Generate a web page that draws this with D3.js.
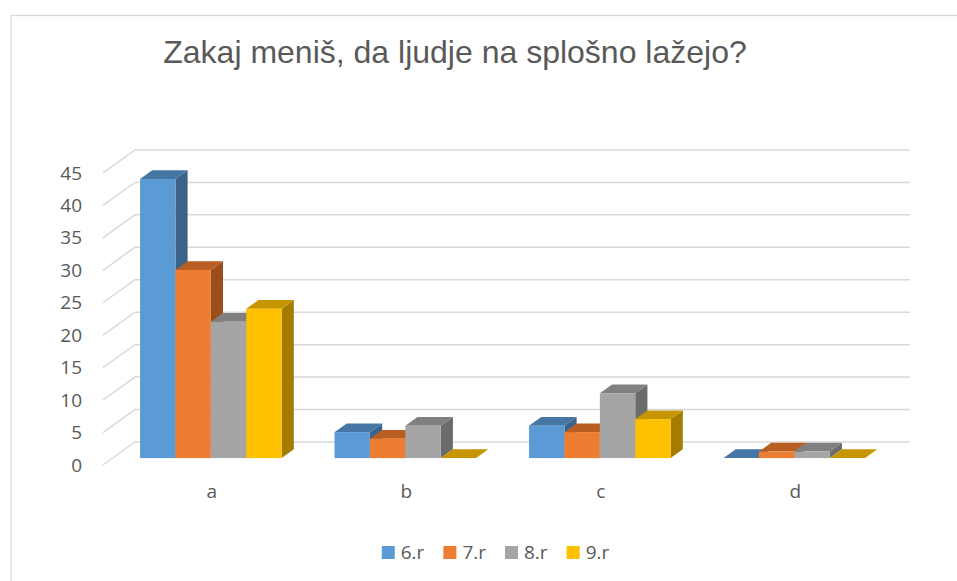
<!DOCTYPE html>
<html>
<head>
<meta charset="utf-8">
<script src="https://cdn.jsdelivr.net/npm/d3@7"></script>
<style>
  html, body { margin: 0; padding: 0; background: #ffffff; }
  svg { display: block; }
</style>
</head>
<body>
<svg id="chart" width="957" height="581"></svg>
<script>
// ---- data ----
const categories = ["a", "b", "c", "d"];
const seriesNames = ["6.r", "7.r", "8.r", "9.r"];
const values6r = [43, 4, 5, 0];
const values7r = [29, 3, 4, 1];
const values8r = [21, 5, 10, 1];
const values9r = [23, 0, 6, 0];
const yTickValues = [0, 5, 10, 15, 20, 25, 30, 35, 40, 45];
const titleText = "Zakaj meniš, da ljudje na splošno lažejo?";

const seriesValues = [values6r, values7r, values8r, values9r];
const fronts = ["#5B9BD5", "#ED7D31", "#A5A5A5", "#FFC000"];
const tops   = ["#4676A4", "#B95E22", "#808080", "#C69500"];
const sides  = ["#3B6389", "#9B4D1B", "#6B6B6B", "#A67C00"];

const svg = d3.select("#chart");
const textColor = "#595959";
const gridColor = "#D9D9D9";

// frame
svg.append("rect")
  .attr("x", 11).attr("y", 15.5).attr("width", 1100).attr("height", 700)
  .attr("fill", "none").attr("stroke", gridColor).attr("stroke-width", 1.3);

// title
svg.append("text")
  .attr("x", 455).attr("y", 63)
  .attr("text-anchor", "middle")
  .attr("font-family", "'Liberation Sans', Arial, sans-serif")
  .attr("font-size", 32)
  .attr("fill", textColor)
  .text(titleText);

// ---- geometry ----
const floorX0 = 103, floorX1 = 878;
const depthDX = 32, depthDY = -23;       // full floor depth
const barT0 = 0.3, barT1 = 0.68;         // bar front/back depth fractions
const fx = depthDX * barT0, fy = depthDY * barT0;
const bdx = depthDX * (barT1 - barT0), bdy = depthDY * (barT1 - barT0);

const y = d3.scaleLinear().domain([0, 45]).range([465, 465 - 45 * 6.49]);
const x = d3.scaleBand().domain(categories).range([104, 882])
  .paddingInner(0.272).paddingOuter(0.136);
const xs = d3.scaleBand().domain(seriesNames).range([0, x.bandwidth()]);

// gridlines (side diagonal + back wall)
const grid = svg.append("g").attr("stroke", gridColor).attr("stroke-width", 1.5).attr("fill", "none");
yTickValues.forEach(v => {
  const yy = y(v);
  grid.append("path")
    .attr("d", `M${floorX0},${yy} L${floorX0 + depthDX},${yy + depthDY} L${floorX1 + depthDX},${yy + depthDY}`);
});

// y axis labels
const yAxis = svg.append("g")
  .attr("transform", `translate(${floorX0},0)`)
  .call(d3.axisLeft(y).tickValues(yTickValues).tickSize(0).tickPadding(21));
yAxis.select(".domain").remove();
yAxis.selectAll("text")
  .attr("font-family", "'Open Sans', sans-serif")
  .attr("font-size", 19)
  .attr("fill", textColor);

// x axis labels
const xAxis = svg.append("g")
  .attr("transform", `translate(${fx + 1},${y(0)})`)
  .call(d3.axisBottom(x).tickSize(0).tickPadding(20));
xAxis.select(".domain").remove();
xAxis.selectAll("text")
  .attr("font-family", "'Open Sans', sans-serif")
  .attr("font-size", 19)
  .attr("fill", textColor);

// bars
const barsG = svg.append("g");
categories.forEach((cat, ci) => {
  seriesNames.forEach((s, si) => {
    const v = seriesValues[si][ci];
    const x0 = x(cat) + xs(s) + fx;
    const w = xs.bandwidth();
    const yt = y(v) + fy;
    const yb = y(0) + fy;
    const g = barsG.append("g");
    // side
    g.append("path")
      .attr("d", `M${x0 + w},${yt} L${x0 + w + bdx},${yt + bdy} L${x0 + w + bdx},${yb + bdy} L${x0 + w},${yb} Z`)
      .attr("fill", sides[si]);
    // top
    g.append("path")
      .attr("d", `M${x0},${yt} L${x0 + w},${yt} L${x0 + w + bdx},${yt + bdy} L${x0 + bdx},${yt + bdy} Z`)
      .attr("fill", tops[si]);
    // front
    if (v > 0) {
      g.append("rect")
        .attr("x", x0).attr("y", yt)
        .attr("width", w).attr("height", yb - yt)
        .attr("fill", fronts[si]);
    }
  });
});

// legend
const legend = svg.append("g");
const items = [];
seriesNames.forEach((s, i) => {
  const gi = legend.append("g");
  gi.append("rect").attr("x", 0).attr("y", -6.5).attr("width", 13).attr("height", 13).attr("fill", fronts[i]);
  const t = gi.append("text").attr("x", 19).attr("y", 0).attr("dy", "0.35em")
    .attr("font-family", "'Open Sans', sans-serif").attr("font-size", 19)
    .attr("fill", textColor).text(s);
  items.push({ g: gi, w: 19 + t.node().getComputedTextLength() });
});
const gap = 19;
const total = d3.sum(items, d => d.w) + gap * (items.length - 1);
let lx = 495.5 - total / 2;
items.forEach(it => {
  it.g.attr("transform", `translate(${lx},552.5)`);
  lx += it.w + gap;
});
</script>
</body>
</html>
